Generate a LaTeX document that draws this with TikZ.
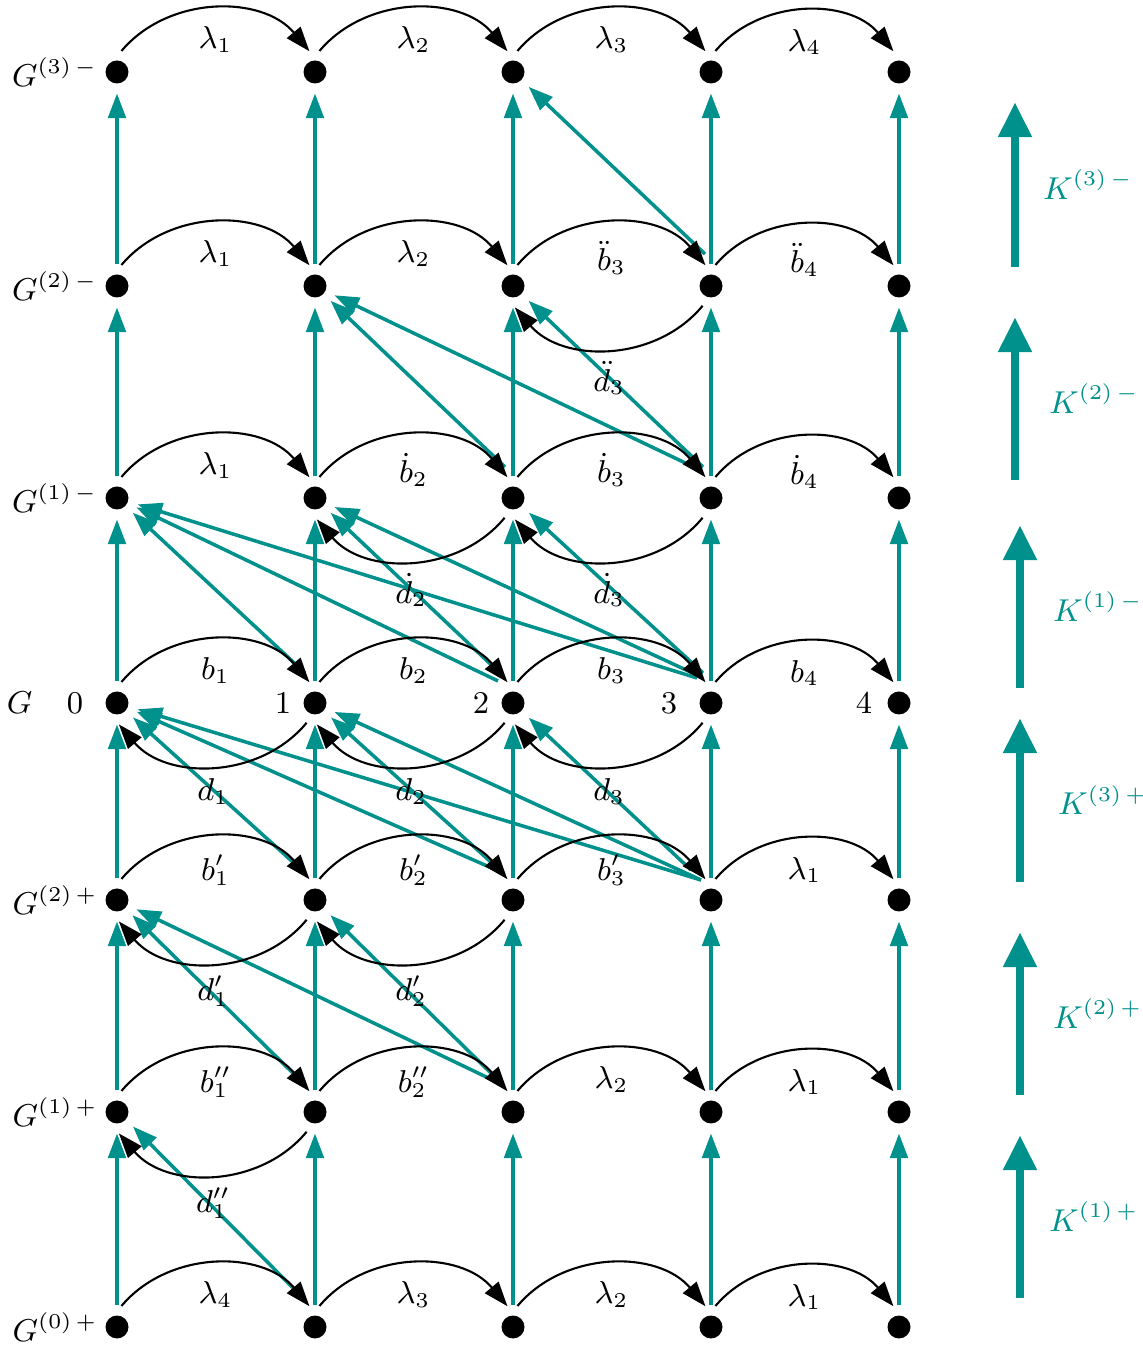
\documentclass[tikz,border=0pt]{standalone}
\usepackage{amsmath}
\usepackage{amssymb}
\usepackage{tikz}
\usetikzlibrary{positioning, arrows.meta}

\definecolor{liftteal}{RGB}{0,145,140}

\begin{document}
\begin{tikzpicture}[node distance=1.98cm, font=\small,
  site node/.style={circle,fill,inner sep=0pt,minimum size=0.23cm,outer sep=0.1cm},
  row label/.style={inner sep=1pt},
  arc edge/.style={line width=0.6pt,bend left=50,-{Triangle[length=7pt,width=5pt]}},
  lift edge/.style={liftteal,line width=1pt,-{Triangle[length=7pt,width=5pt]}},
  K arrow/.style={liftteal,line width=2.5pt,-{Triangle[length=10pt,width=9pt]}}]

\useasboundingbox (0,0) rectangle (11.42,13.53);

% level G^{(0)+}
\node[site node] (P00) at (1.17,0.26) {};
\node[site node] (P01) [right of=P00] {};
\node[site node] (P02) [right of=P01] {};
\node[site node] (P03) [right of=P02] {};
\node[site node] (P04) [node distance=1.88cm, right of=P03] {};
% level G^{(1)+}
\node[site node] (P10) at (1.17,2.41) {};
\node[site node] (P11) [right of=P10] {};
\node[site node] (P12) [right of=P11] {};
\node[site node] (P13) [right of=P12] {};
\node[site node] (P14) [node distance=1.88cm, right of=P13] {};
% level G^{(2)+}
\node[site node] (P20) at (1.17,4.53) {};
\node[site node] (P21) [right of=P20] {};
\node[site node] (P22) [right of=P21] {};
\node[site node] (P23) [right of=P22] {};
\node[site node] (P24) [node distance=1.88cm, right of=P23] {};
% level G
\node[site node, label=left:$0$] (G0) at (1.17,6.50) {};
\node[site node, label={[label distance=-1mm]left:$1$}] (G1) [right of=G0] {};
\node[site node, label={[label distance=-1mm]left:$2$}] (G2) [right of=G1] {};
\node[site node, label=left:$3$] (G3) [right of=G2] {};
\node[site node, label={[label distance=-0.7mm]left:$4$}] (G4) [node distance=1.88cm, right of=G3] {};
% level G^{(1)-}
\node[site node] (M10) at (1.17,8.55) {};
\node[site node] (M11) [right of=M10] {};
\node[site node] (M12) [right of=M11] {};
\node[site node] (M13) [right of=M12] {};
\node[site node] (M14) [node distance=1.88cm, right of=M13] {};
% level G^{(2)-}
\node[site node] (M20) at (1.17,10.67) {};
\node[site node] (M21) [right of=M20] {};
\node[site node] (M22) [right of=M21] {};
\node[site node] (M23) [right of=M22] {};
\node[site node] (M24) [node distance=1.88cm, right of=M23] {};
% level G^{(3)-}
\node[site node] (M30) at (1.17,12.81) {};
\node[site node] (M31) [right of=M30] {};
\node[site node] (M32) [right of=M31] {};
\node[site node] (M33) [right of=M32] {};
\node[site node] (M34) [node distance=1.88cm, right of=M33] {};

% row names
\node[row label] (LP0) [left=-0.6mm of P00] {$G^{(0)\,+}$};
\node[row label] (LP1) [left=-0.6mm of P10] {$G^{(1)\,+}$};
\node[row label] (LP2) [left=-0.6mm of P20] {$G^{(2)\,+}$};
\node[row label] (LG)  [left=5.9mm of G0] {$G$};
\node[row label] (LM1) [left=-0.6mm of M10] {$G^{(1)\,-}$};
\node[row label] (LM2) [left=-0.6mm of M20] {$G^{(2)\,-}$};
\node[row label] (LM3) [left=-0.6mm of M30] {$G^{(3)\,-}$};

% teal lifts, straight up
\path[lift edge]
(P00) edge (P10) (P01) edge (P11) (P02) edge (P12) (P03) edge (P13) (P04) edge (P14)
(P10) edge (P20) (P11) edge (P21) (P12) edge (P22) (P13) edge (P23) (P14) edge (P24)
(P20) edge (G0) (P21) edge (G1) (P22) edge (G2) (P23) edge (G3) (P24) edge (G4)
(G0) edge (M10) (G1) edge (M11) (G2) edge (M12) (G3) edge (M13) (G4) edge (M14)
(M10) edge (M20) (M11) edge (M21) (M12) edge (M22) (M13) edge (M23) (M14) edge (M24)
(M20) edge (M30) (M21) edge (M31) (M22) edge (M32) (M23) edge (M33) (M24) edge (M34)
;

% teal lifts, going back
\path[lift edge]
([shift={(-0.1,0.27)}]P01.center) edge (P10)
([shift={(-0.1,0.27)}]P11.center) edge (P20)
([shift={(-0.1,0.27)}]P12.center) edge (P20)
([shift={(-0.1,0.27)}]P12.center) edge (P21)
([shift={(-0.1,0.27)}]P21.center) edge (G0)
([shift={(-0.1,0.27)}]P22.center) edge (G0)
([shift={(-0.1,0.27)}]P22.center) edge (G1)
([shift={(-0.1,0.2)}]P23.center) edge (G0)
([shift={(-0.1,0.2)}]P23.center) edge (G1)
([shift={(-0.2,0.3)}]P23.center) edge (G2)
([shift={(-0.1,0.3)}]G1.center) edge (M10)
([shift={(-0.15,0.22)}]G2.center) edge (M10)
([shift={(-0.1,0.27)}]G2.center) edge (M11)
([shift={(-0.14,0.25)}]G3.center) edge (M10)
([shift={(-0.12,0.27)}]G3.center) edge (M11)
([shift={(-0.08,0.3)}]G3.center) edge (M12)
([shift={(-0.08,0.31)}]M12.center) edge (M21)
([shift={(-0.11,0.28)}]M13.center) edge (M21)
([shift={(-0.08,0.31)}]M13.center) edge (M22)
([shift={(-0.06,0.32)}]M23.center) edge (M32)
;

% forward arcs
\path[arc edge]
(P00.78) edge node[below=1.5pt] {$\lambda_4$} (P01.105)
(P01.78) edge node[below=1.5pt] {$\lambda_3$} (P02.105)
(P02.78) edge node[below=1.5pt] {$\lambda_2$} (P03.105)
(P03.78) edge node[below=1.5pt] {$\lambda_1$} (P04.105)
(P10.78) edge node[below=1.5pt] {$b''_1$} (P11.105)
(P11.78) edge node[below=1.5pt] {$b''_2$} (P12.105)
(P12.78) edge node[below=1.5pt] {$\lambda_2$} (P13.105)
(P13.78) edge node[below=1.5pt] {$\lambda_1$} (P14.105)
(P20.78) edge node[below=1.5pt] {$b'_1$} (P21.105)
(P21.78) edge node[below=1.5pt] {$b'_2$} (P22.105)
(P22.78) edge node[below=1.5pt] {$b'_3$} (P23.105)
(P23.78) edge node[below=1.5pt] {$\lambda_1$} (P24.105)
(G0.78) edge node[below=1.5pt] {$b_1$} (G1.105)
(G1.78) edge node[below=1.5pt] {$b_2$} (G2.105)
(G2.78) edge node[below=1.5pt] {$b_3$} (G3.105)
(G3.78) edge node[below=1.5pt] {$b_4$} (G4.105)
(M10.78) edge node[below=1.5pt] {$\lambda_1$} (M11.105)
(M11.78) edge node[below=1.5pt] {$\dot b_2$} (M12.105)
(M12.78) edge node[below=1.5pt] {$\dot b_3$} (M13.105)
(M13.78) edge node[below=1.5pt] {$\dot b_4$} (M14.105)
(M20.78) edge node[below=1.5pt] {$\lambda_1$} (M21.105)
(M21.78) edge node[below=1.5pt] {$\lambda_2$} (M22.105)
(M22.78) edge node[below=1.5pt] {$\ddot b_3$} (M23.105)
(M23.78) edge node[below=1.5pt] {$\ddot b_4$} (M24.105)
(M30.78) edge node[below=1.5pt] {$\lambda_1$} (M31.105)
(M31.78) edge node[below=1.5pt] {$\lambda_2$} (M32.105)
(M32.78) edge node[below=1.5pt] {$\lambda_3$} (M33.105)
(M33.78) edge node[below=1.5pt] {$\lambda_4$} (M34.105)
;

% backward arcs
\path[arc edge]
(P11.247) edge node[below] {$d''_1$} (P10.275)
(P21.247) edge node[below] {$d'_1$} (P20.275)
(P22.247) edge node[below] {$d'_2$} (P21.275)
(G1.247) edge node[below] {$d_1$} (G0.275)
(G2.247) edge node[below] {$d_2$} (G1.275)
(G3.247) edge node[below] {$d_3$} (G2.275)
(M12.247) edge node[below] {$\dot d_2$} (M11.275)
(M13.247) edge node[below] {$\dot d_3$} (M12.275)
(M23.247) edge node[below] {$\ddot d_3$} (M22.275)
;

% big arrows on the right
\coordinate (K1s) at (10.20,0.55);
\coordinate (K1e) at (10.20,2.18);
\coordinate (K2s) at (10.20,2.58);
\coordinate (K2e) at (10.20,4.21);
\coordinate (K3s) at (10.20,4.71);
\coordinate (K3e) at (10.20,6.35);
\coordinate (K4s) at (10.20,6.65);
\coordinate (K4e) at (10.20,8.28);
\coordinate (K5s) at (10.15,8.73);
\coordinate (K5e) at (10.15,10.36);
\coordinate (K6s) at (10.15,10.86);
\coordinate (K6e) at (10.15,12.51);

\draw[K arrow] (K1s) -- node[right=1.3mm] {$K^{(1)\,+}$} (K1e);
\draw[K arrow] (K2s) -- node[right=1.7mm] {$K^{(2)\,+}$} (K2e);
\draw[K arrow] (K3s) -- node[right=2.2mm] {$K^{(3)\,+}$} (K3e);
\draw[K arrow] (K4s) -- node[right=1.7mm] {$K^{(1)\,-}$} (K4e);
\draw[K arrow] (K5s) -- node[right=1.8mm] {$K^{(2)\,-}$} (K5e);
\draw[K arrow] (K6s) -- node[right=1.2mm] {$K^{(3)\,-}$} (K6e);

\end{tikzpicture}
\end{document}
